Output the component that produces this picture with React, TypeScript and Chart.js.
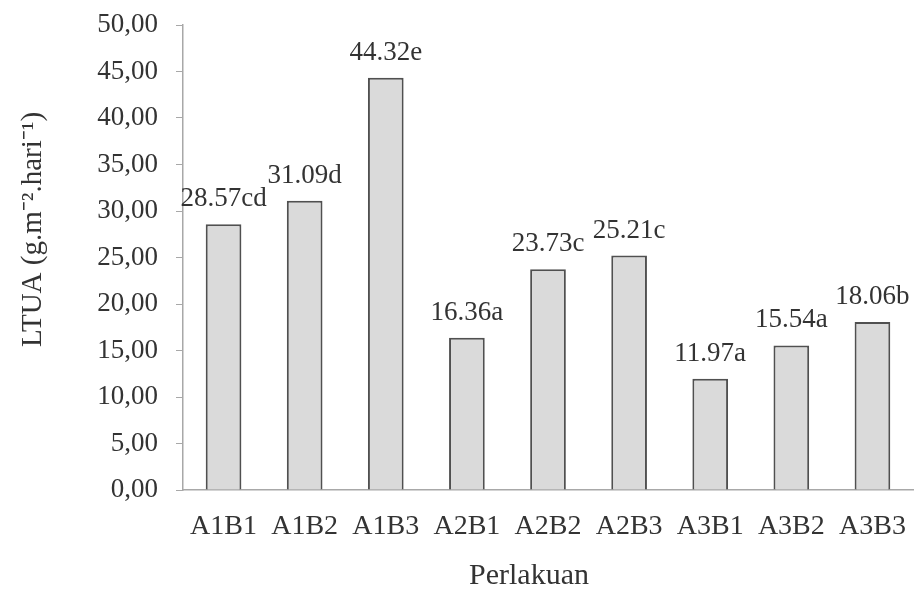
import React, { useEffect, useRef } from "react";
import { Chart, registerables } from "chart.js";

Chart.register(...registerables);

const categories = ["A1B1", "A1B2", "A1B3", "A2B1", "A2B2", "A2B3", "A3B1", "A3B2", "A3B3"];
const values = [28.57, 31.09, 44.32, 16.36, 23.73, 25.21, 11.97, 15.54, 18.06];
const notations = ["cd", "d", "e", "a", "c", "c", "a", "a", "b"];
const yTitle = "LTUA (g.m\u207B\u00B2.hari\u207B\u00B9)";
const xTitle = "Perlakuan";

const FONT = "'Liberation Serif', 'Times New Roman', serif";
const TEXT = "#333333";

const labelPlugin = {
  id: "barLabels",
  afterDatasetsDraw(chart: any) {
    const ctx = chart.ctx;
    const meta = chart.getDatasetMeta(0);
    ctx.save();
    ctx.font = `27px ${FONT}`;
    ctx.fillStyle = TEXT;
    ctx.textAlign = "center";
    ctx.textBaseline = "alphabetic";
    meta.data.forEach((bar: any, i: number) => {
      const txt = values[i].toFixed(2) + notations[i];
      ctx.fillText(txt, bar.x, bar.y - 18);
    });
    ctx.restore();
  },
};

const titlesPlugin = {
  id: "axisTitles",
  afterDraw(chart: any) {
    const ctx = chart.ctx;
    const area = chart.chartArea;
    ctx.save();
    ctx.fillStyle = TEXT;
    ctx.textAlign = "center";
    ctx.textBaseline = "middle";
    ctx.font = `30px ${FONT}`;
    ctx.fillText(xTitle, (area.left + area.right) / 2 - 19, area.bottom + 86);
    ctx.font = `29px ${FONT}`;
    ctx.translate(33, (area.top + area.bottom) / 2 - 28);
    ctx.rotate(-Math.PI / 2);
    ctx.fillText(yTitle, 0, 0);
    ctx.restore();
  },
};

export default function App() {
  const ref = useRef<HTMLCanvasElement>(null);
  useEffect(() => {
    if (!ref.current) return;
    const chart = new Chart(ref.current, {
      type: "bar",
      data: {
        labels: categories,
        datasets: [
          {
            data: values,
            backgroundColor: "#dadada",
            borderColor: "#505050",
            borderWidth: 2,
            barPercentage: 0.44,
            categoryPercentage: 1,
          },
        ],
      },
      options: {
        responsive: false,
        animation: false,
        layout: { padding: { top: 25, right: 3, left: 0, bottom: 0 } },
        plugins: {
          legend: { display: false },
          tooltip: { enabled: false },
        },
        scales: {
          x: {
            grid: { display: false, drawTicks: false },
            border: { display: true, color: "#a8a8a8", width: 1.5 },
            ticks: { color: TEXT, font: { family: FONT, size: 28 }, padding: 20, maxRotation: 0, autoSkip: false },
            title: { display: false },
            afterFit: (s: any) => { s.height = 104; s.paddingLeft = 0; s.paddingRight = 0; },
          },
          y: {
            min: 0,
            max: 50,
            ticks: {
              stepSize: 5,
              color: TEXT,
              font: { family: FONT, size: 27 },
              padding: 18,
              callback: (v: any) => Number(v).toFixed(2).replace(".", ","),
            },
            grid: { display: true, drawOnChartArea: false, drawTicks: true, tickLength: 7, color: "#a8a8a8", lineWidth: 1 },
            border: { display: true, color: "#a8a8a8", width: 1.5 },
            title: { display: false },
            afterFit: (s: any) => { s.width = 183; s.paddingTop = 0; s.paddingBottom = 0; },
          },
        },
      },
      plugins: [labelPlugin, titlesPlugin],
    });
    return () => chart.destroy();
  }, []);
  return (
    <div style={{ position: "absolute", left: 0, top: 0, width: 916, height: 594, background: "#fff" }}>
      <canvas ref={ref} width={916} height={594} />
    </div>
  );
}
